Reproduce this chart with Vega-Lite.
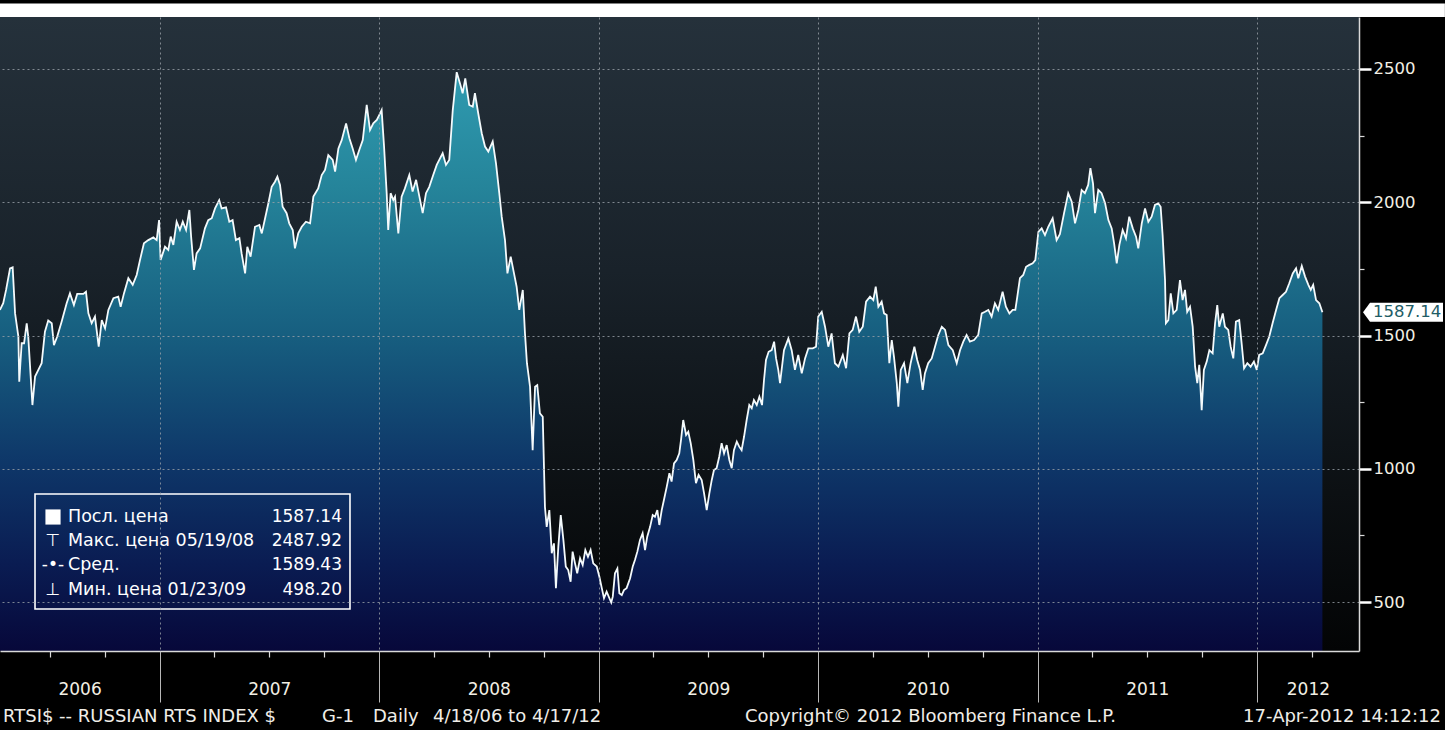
{
  "$schema": "https://vega.github.io/schema/vega-lite/v6.json",
  "width": 1359,
  "height": 634,
  "autosize": "none",
  "padding": {"left": 0, "top": 17, "right": 86, "bottom": 79},
  "background": "#000000",
  "config": {"view": {"stroke": null}, "font": "DejaVu Sans"},
  "data": {"values": [
    {"t":2006.273,"v":1596},{"t":2006.288,"v":1621},{"t":2006.301,"v":1671},{"t":2006.319,"v":1752},{"t":2006.331,"v":1756},{"t":2006.342,"v":1583},{"t":2006.357,"v":1496},{"t":2006.361,"v":1327},{"t":2006.372,"v":1471},{"t":2006.383,"v":1471},{"t":2006.395,"v":1546},{"t":2006.402,"v":1496},{"t":2006.421,"v":1239},{"t":2006.433,"v":1346},{"t":2006.448,"v":1371},{"t":2006.463,"v":1396},{"t":2006.478,"v":1514},{"t":2006.493,"v":1556},{"t":2006.509,"v":1546},{"t":2006.519,"v":1464},{"t":2006.534,"v":1496},{"t":2006.554,"v":1552},{"t":2006.577,"v":1621},{"t":2006.592,"v":1658},{"t":2006.610,"v":1614},{"t":2006.625,"v":1656},{"t":2006.653,"v":1656},{"t":2006.665,"v":1664},{"t":2006.676,"v":1583},{"t":2006.691,"v":1546},{"t":2006.706,"v":1571},{"t":2006.723,"v":1458},{"t":2006.737,"v":1558},{"t":2006.752,"v":1527},{"t":2006.767,"v":1596},{"t":2006.790,"v":1640},{"t":2006.812,"v":1646},{"t":2006.823,"v":1608},{"t":2006.838,"v":1658},{"t":2006.858,"v":1715},{"t":2006.878,"v":1690},{"t":2006.896,"v":1727},{"t":2006.911,"v":1783},{"t":2006.929,"v":1846},{"t":2006.949,"v":1858},{"t":2006.972,"v":1868},{"t":2006.987,"v":1858},{"t":2006.998,"v":1933},{"t":2007.005,"v":1783},{"t":2007.025,"v":1833},{"t":2007.040,"v":1821},{"t":2007.051,"v":1871},{"t":2007.063,"v":1840},{"t":2007.078,"v":1927},{"t":2007.093,"v":1896},{"t":2007.106,"v":1927},{"t":2007.121,"v":1896},{"t":2007.136,"v":1971},{"t":2007.144,"v":1871},{"t":2007.157,"v":1746},{"t":2007.169,"v":1808},{"t":2007.185,"v":1827},{"t":2007.207,"v":1902},{"t":2007.222,"v":1933},{"t":2007.238,"v":1940},{"t":2007.253,"v":1977},{"t":2007.272,"v":2008},{"t":2007.283,"v":1977},{"t":2007.303,"v":1981},{"t":2007.318,"v":1927},{"t":2007.333,"v":1933},{"t":2007.348,"v":1858},{"t":2007.364,"v":1865},{"t":2007.374,"v":1808},{"t":2007.390,"v":1733},{"t":2007.400,"v":1833},{"t":2007.415,"v":1796},{"t":2007.435,"v":1908},{"t":2007.455,"v":1915},{"t":2007.466,"v":1883},{"t":2007.481,"v":1940},{"t":2007.496,"v":1996},{"t":2007.511,"v":2058},
    {"t":2007.526,"v":2077},{"t":2007.537,"v":2096},{"t":2007.549,"v":2065},{"t":2007.561,"v":1983},{"t":2007.579,"v":1959},{"t":2007.591,"v":1921},{"t":2007.607,"v":1896},{"t":2007.617,"v":1827},{"t":2007.632,"v":1883},{"t":2007.648,"v":1908},{"t":2007.667,"v":1927},{"t":2007.686,"v":1921},{"t":2007.701,"v":2021},{"t":2007.723,"v":2052},{"t":2007.739,"v":2102},{"t":2007.754,"v":2121},{"t":2007.769,"v":2177},{"t":2007.789,"v":2159},{"t":2007.800,"v":2115},{"t":2007.815,"v":2202},{"t":2007.830,"v":2233},{"t":2007.850,"v":2296},{"t":2007.865,"v":2240},{"t":2007.880,"v":2202},{"t":2007.895,"v":2159},{"t":2007.910,"v":2196},{"t":2007.926,"v":2233},{"t":2007.944,"v":2365},{"t":2007.959,"v":2271},{"t":2007.974,"v":2296},{"t":2007.990,"v":2309},{"t":2008.001,"v":2327},{"t":2008.012,"v":2346},{"t":2008.023,"v":2209},{"t":2008.035,"v":2034},{"t":2008.042,"v":1896},{"t":2008.053,"v":2034},{"t":2008.065,"v":2008},{"t":2008.073,"v":2021},{"t":2008.088,"v":1883},{"t":2008.103,"v":2021},{"t":2008.118,"v":2052},{"t":2008.138,"v":2102},{"t":2008.153,"v":2040},{"t":2008.169,"v":2084},{"t":2008.184,"v":2021},{"t":2008.199,"v":1959},{"t":2008.214,"v":2034},{"t":2008.229,"v":2058},{"t":2008.247,"v":2102},{"t":2008.263,"v":2140},{"t":2008.278,"v":2165},{"t":2008.290,"v":2184},{"t":2008.305,"v":2140},{"t":2008.320,"v":2159},{"t":2008.336,"v":2346},{"t":2008.354,"v":2488},{"t":2008.369,"v":2446},{"t":2008.381,"v":2409},{"t":2008.393,"v":2465},{"t":2008.411,"v":2365},{"t":2008.427,"v":2359},{"t":2008.437,"v":2409},{"t":2008.452,"v":2334},{"t":2008.468,"v":2259},{"t":2008.483,"v":2209},{"t":2008.498,"v":2190},{"t":2008.518,"v":2228},{"t":2008.533,"v":2146},{"t":2008.548,"v":2034},{"t":2008.559,"v":1946},{"t":2008.574,"v":1858},{"t":2008.585,"v":1733},{"t":2008.600,"v":1796},{"t":2008.615,"v":1733},{"t":2008.627,"v":1683},{"t":2008.639,"v":1596},{"t":2008.655,"v":1671},{"t":2008.665,"v":1508},{"t":2008.674,"v":1396},{"t":2008.688,"v":1308},{"t":2008.700,"v":1070},{"t":2008.711,"v":1308},{"t":2008.721,"v":1314},{"t":2008.733,"v":1208},{"t":2008.746,"v":1195},
    {"t":2008.756,"v":857},{"t":2008.764,"v":782},{"t":2008.776,"v":845},{"t":2008.787,"v":683},{"t":2008.797,"v":720},{"t":2008.806,"v":552},{"t":2008.817,"v":708},{"t":2008.828,"v":826},{"t":2008.840,"v":733},{"t":2008.851,"v":633},{"t":2008.862,"v":620},{"t":2008.873,"v":576},{"t":2008.882,"v":689},{"t":2008.893,"v":645},{"t":2008.903,"v":608},{"t":2008.916,"v":664},{"t":2008.928,"v":639},{"t":2008.940,"v":695},{"t":2008.952,"v":670},{"t":2008.964,"v":695},{"t":2008.976,"v":645},{"t":2008.992,"v":633},{"t":2009.004,"v":595},{"t":2009.015,"v":552},{"t":2009.025,"v":514},{"t":2009.037,"v":539},{"t":2009.058,"v":498.2},{"t":2009.065,"v":520},{"t":2009.075,"v":608},{"t":2009.086,"v":626},{"t":2009.095,"v":533},{"t":2009.106,"v":526},{"t":2009.116,"v":545},{"t":2009.128,"v":552},{"t":2009.144,"v":589},{"t":2009.156,"v":633},{"t":2009.166,"v":658},{"t":2009.177,"v":689},{"t":2009.189,"v":733},{"t":2009.201,"v":758},{"t":2009.212,"v":695},{"t":2009.222,"v":745},{"t":2009.235,"v":782},{"t":2009.247,"v":826},{"t":2009.257,"v":820},{"t":2009.268,"v":845},{"t":2009.277,"v":789},{"t":2009.288,"v":845},{"t":2009.298,"v":883},{"t":2009.311,"v":933},{"t":2009.323,"v":983},{"t":2009.333,"v":952},{"t":2009.344,"v":1020},{"t":2009.356,"v":1033},{"t":2009.368,"v":1058},{"t":2009.376,"v":1108},{"t":2009.386,"v":1183},{"t":2009.399,"v":1127},{"t":2009.409,"v":1139},{"t":2009.420,"v":1096},{"t":2009.432,"v":1033},{"t":2009.444,"v":946},{"t":2009.456,"v":977},{"t":2009.470,"v":958},{"t":2009.481,"v":908},{"t":2009.493,"v":845},{"t":2009.505,"v":908},{"t":2009.516,"v":958},{"t":2009.526,"v":995},{"t":2009.538,"v":1002},{"t":2009.550,"v":1045},{"t":2009.561,"v":1096},{"t":2009.572,"v":1058},{"t":2009.584,"v":1089},{"t":2009.596,"v":1033},{"t":2009.607,"v":1002},{"t":2009.617,"v":1070},{"t":2009.630,"v":1102},{"t":2009.641,"v":1083},{"t":2009.652,"v":1070},{"t":2009.663,"v":1120},{"t":2009.675,"v":1183},{"t":2009.687,"v":1239},{"t":2009.698,"v":1227},{"t":2009.708,"v":1258},{"t":2009.721,"v":1239},{"t":2009.733,"v":1270},{"t":2009.745,"v":1239},{"t":2009.754,"v":1333},{"t":2009.763,"v":1408},{"t":2009.775,"v":1439},{"t":2009.789,"v":1445},{"t":2009.800,"v":1477},{"t":2009.809,"v":1414},{"t":2009.819,"v":1371},
    {"t":2009.827,"v":1321},{"t":2009.845,"v":1445},{"t":2009.865,"v":1489},{"t":2009.880,"v":1445},{"t":2009.895,"v":1371},{"t":2009.910,"v":1427},{"t":2009.926,"v":1358},{"t":2009.941,"v":1414},{"t":2009.956,"v":1452},{"t":2009.976,"v":1452},{"t":2009.991,"v":1458},{"t":2010.001,"v":1571},{"t":2010.017,"v":1589},{"t":2010.032,"v":1533},{"t":2010.047,"v":1458},{"t":2010.062,"v":1508},{"t":2010.077,"v":1396},{"t":2010.093,"v":1383},{"t":2010.113,"v":1427},{"t":2010.128,"v":1377},{"t":2010.143,"v":1508},{"t":2010.158,"v":1521},{"t":2010.173,"v":1571},{"t":2010.188,"v":1514},{"t":2010.204,"v":1533},{"t":2010.219,"v":1627},{"t":2010.237,"v":1646},{"t":2010.252,"v":1633},{"t":2010.263,"v":1683},{"t":2010.275,"v":1608},{"t":2010.290,"v":1627},{"t":2010.301,"v":1583},{"t":2010.313,"v":1577},{"t":2010.325,"v":1396},{"t":2010.336,"v":1483},{"t":2010.346,"v":1421},{"t":2010.359,"v":1321},{"t":2010.366,"v":1233},{"t":2010.377,"v":1371},{"t":2010.392,"v":1396},{"t":2010.407,"v":1321},{"t":2010.422,"v":1396},{"t":2010.439,"v":1458},{"t":2010.452,"v":1408},{"t":2010.465,"v":1371},{"t":2010.477,"v":1296},{"t":2010.487,"v":1358},{"t":2010.502,"v":1396},{"t":2010.518,"v":1414},{"t":2010.533,"v":1458},{"t":2010.548,"v":1502},{"t":2010.564,"v":1533},{"t":2010.579,"v":1521},{"t":2010.594,"v":1464},{"t":2010.614,"v":1445},{"t":2010.632,"v":1396},{"t":2010.647,"v":1445},{"t":2010.662,"v":1477},{"t":2010.677,"v":1502},{"t":2010.692,"v":1477},{"t":2010.711,"v":1483},{"t":2010.730,"v":1502},{"t":2010.746,"v":1583},{"t":2010.761,"v":1589},{"t":2010.776,"v":1596},{"t":2010.791,"v":1571},{"t":2010.806,"v":1621},{"t":2010.821,"v":1596},{"t":2010.841,"v":1664},{"t":2010.856,"v":1608},{"t":2010.872,"v":1583},{"t":2010.887,"v":1596},{"t":2010.899,"v":1596},{"t":2010.908,"v":1646},{"t":2010.920,"v":1715},{"t":2010.935,"v":1727},{"t":2010.948,"v":1758},{"t":2010.963,"v":1765},{"t":2010.978,"v":1771},{"t":2010.990,"v":1783},{"t":2011.004,"v":1889},{"t":2011.019,"v":1902},{"t":2011.034,"v":1877},{"t":2011.049,"v":1908},{"t":2011.069,"v":1940},{"t":2011.087,"v":1858},{"t":2011.102,"v":1880},
    {"t":2011.121,"v":1959},{"t":2011.140,"v":2034},{"t":2011.156,"v":2002},{"t":2011.171,"v":1921},{"t":2011.186,"v":1971},{"t":2011.201,"v":2046},{"t":2011.216,"v":2034},{"t":2011.231,"v":2065},{"t":2011.241,"v":2128},{"t":2011.253,"v":2070},{"t":2011.262,"v":1959},{"t":2011.277,"v":2046},{"t":2011.292,"v":2034},{"t":2011.308,"v":1996},{"t":2011.323,"v":1933},{"t":2011.338,"v":1902},{"t":2011.349,"v":1846},{"t":2011.361,"v":1771},{"t":2011.373,"v":1840},{"t":2011.388,"v":1896},{"t":2011.403,"v":1865},{"t":2011.418,"v":1946},{"t":2011.434,"v":1902},{"t":2011.449,"v":1871},{"t":2011.459,"v":1827},{"t":2011.475,"v":1921},{"t":2011.490,"v":1977},{"t":2011.505,"v":1927},{"t":2011.520,"v":1946},{"t":2011.535,"v":1990},{"t":2011.550,"v":1996},{"t":2011.561,"v":1983},{"t":2011.570,"v":1877},{"t":2011.581,"v":1708},{"t":2011.585,"v":1546},{"t":2011.596,"v":1558},{"t":2011.607,"v":1658},{"t":2011.619,"v":1583},{"t":2011.634,"v":1596},{"t":2011.649,"v":1708},{"t":2011.661,"v":1633},{"t":2011.672,"v":1671},{"t":2011.682,"v":1589},{"t":2011.695,"v":1608},{"t":2011.707,"v":1533},{"t":2011.718,"v":1383},{"t":2011.728,"v":1321},{"t":2011.737,"v":1390},{"t":2011.748,"v":1220},{"t":2011.758,"v":1371},{"t":2011.771,"v":1402},{"t":2011.783,"v":1445},{"t":2011.798,"v":1433},{"t":2011.809,"v":1546},{"t":2011.819,"v":1614},{"t":2011.828,"v":1533},{"t":2011.844,"v":1583},{"t":2011.854,"v":1533},{"t":2011.869,"v":1521},{"t":2011.880,"v":1458},{"t":2011.892,"v":1414},{"t":2011.904,"v":1552},{"t":2011.919,"v":1558},{"t":2011.930,"v":1471},{"t":2011.941,"v":1377},{"t":2011.956,"v":1396},{"t":2011.971,"v":1383},{"t":2011.986,"v":1402},{"t":2011.999,"v":1371},{"t":2012.010,"v":1427},{"t":2012.026,"v":1433},{"t":2012.041,"v":1464},{"t":2012.056,"v":1496},{"t":2012.071,"v":1546},{"t":2012.087,"v":1596},{"t":2012.102,"v":1640},{"t":2012.117,"v":1652},{"t":2012.132,"v":1664},{"t":2012.147,"v":1696},{"t":2012.163,"v":1733},{"t":2012.178,"v":1752},{"t":2012.188,"v":1715},{"t":2012.204,"v":1761},{"t":2012.219,"v":1721},{"t":2012.234,"v":1690},{"t":2012.245,"v":1671},{"t":2012.256,"v":1690},{"t":2012.269,"v":1633},{"t":2012.284,"v":1621},{"t":2012.298,"v":1587.14}
  ]},
  "layer": [
    {
      "data": {"values": [{}]},
      "mark": {"type": "rect", "color": {"gradient": "linear", "x1": 0, "y1": 0, "x2": 0, "y2": 1, "stops": [
        {"offset": 0, "color": "#25313b"}, {"offset": 0.4, "color": "#19222a"}, {"offset": 0.75, "color": "#0c1013"}, {"offset": 1, "color": "#030405"}]}},
      "encoding": {
        "x": {"datum": 2006.2733, "type": "quantitative", "axis": {"orient": "bottom", "values": [2006.636, 2007.5, 2008.5, 2009.5, 2010.5, 2011.5, 2012.232], "ticks": false, "domain": false, "grid": false, "labelExpr": "floor(datum.value)", "labelPadding": 30, "labelFontSize": 17, "labelColor": "#f2efe4", "labelFont": "DejaVu Sans", "labelFlush": false, "labelOverlap": false, "title": null}},
        "x2": {"datum": 2012.4647},
        "y": {"datum": 2695.1, "type": "quantitative", "axis": {"orient": "right", "values": [500, 1000, 1500, 2000, 2500], "tickSize": 12, "tickWidth": 2.5, "tickColor": "#ffffff", "labels": false, "domain": false, "grid": false, "title": null, "zindex": 1}},
        "y2": {"datum": 316.2}
      }
    },
    {
      "mark": {"type": "area", "color": {"gradient": "linear", "x1": 0, "y1": 0, "x2": 0, "y2": 1, "stops": [
        {"offset": 0, "color": "#2f9bb0"}, {"offset": 0.2, "color": "#25849a"}, {"offset": 0.45, "color": "#175f80"}, {"offset": 0.68, "color": "#0e3668"}, {"offset": 0.85, "color": "#0a1c52"}, {"offset": 1, "color": "#07083a"}]}},
      "encoding": {
        "x": {"field": "t", "type": "quantitative", "scale": {"domain": [2006.2733, 2012.4647], "nice": false, "zero": false},
          "axis": {"orient": "bottom", "values": [2006.5, 2006.75, 2007.25, 2007.5, 2007.75, 2008.25, 2008.5, 2008.75, 2009.25, 2009.5, 2009.75, 2010.25, 2010.5, 2010.75, 2011.25, 2011.5, 2011.75, 2012.25], "tickSize": 6, "tickColor": "#d9d9d9", "tickWidth": 1.2, "labels": false, "grid": false, "domain": true, "domainColor": "#d9d9d9", "domainWidth": 1.5, "title": null, "zindex": 1}},
        "y": {"field": "v", "type": "quantitative", "scale": {"domain": [316.2, 2695.1], "nice": false, "zero": false},
          "axis": {"orient": "right", "values": [500, 1000, 1500, 2000, 2500], "format": "d", "ticks": false, "labelPadding": 14, "labelFontSize": 16.5, "labelColor": "#f2efe4", "labelFont": "DejaVu Sans", "labelFlush": false, "labelOverlap": false, "domain": true, "domainColor": "#d9d9d9", "domainWidth": 1.5, "grid": true, "gridColor": "#9aa1a8", "gridDash": [2, 3], "gridOpacity": 0.8, "title": null, "zindex": 1}},
        "y2": {"datum": 316.2}
      }
    },
    {
      "mark": {"type": "line", "color": "#f4fafc", "strokeWidth": 1.8},
      "encoding": {
        "x": {"field": "t", "type": "quantitative",
          "axis": {"orient": "bottom", "values": [2007, 2008, 2009, 2010, 2011, 2012], "tickSize": 51, "tickColor": "#b8b8b8", "tickWidth": 1, "labels": false, "domain": false, "grid": true, "gridColor": "#9aa1a8", "gridDash": [2, 3], "gridOpacity": 0.8, "title": null, "zindex": 1}},
        "y": {"field": "v", "type": "quantitative",
          "axis": {"orient": "right", "values": [750, 1250, 1750, 2250], "tickSize": 5, "tickColor": "#d9d9d9", "tickWidth": 1.2, "labels": false, "domain": false, "grid": false, "title": null}}
      }
    },
    {
      "data": {"values": [{}]},
      "mark": {"type": "rect", "color": "#ffffff"},
      "encoding": {
        "x": {"datum": 2006.2733, "type": "quantitative", "axis": null},
        "x2": {"datum": 2012.856},
        "y": {"datum": 2745.8, "type": "quantitative", "axis": null},
        "y2": {"datum": 2695.1}
      }
    },
    {
      "data": {"values": [{}]},
      "mark": {"type": "rect", "filled": false, "color": "#ffffff", "strokeWidth": 1.6},
      "encoding": {
        "x": {"datum": 2006.4328, "type": "quantitative", "axis": null},
        "x2": {"datum": 2007.8678},
        "y": {"datum": 905.3, "type": "quantitative", "axis": null},
        "y2": {"datum": 473.7}
      }
    },
    {
      "data": {"values": [{}]},
      "mark": {"type": "point", "shape": "square", "filled": true, "color": "#ffffff", "size": 230, "opacity": 1},
      "encoding": {
        "x": {"datum": 2006.5148, "type": "quantitative", "axis": null},
        "y": {"datum": 819.0, "type": "quantitative", "axis": null}
      }
    },
    {
      "data": {"values": [{}]},
      "mark": {"type": "text", "text": ["", "⊤", "-•-", "⊥"], "align": "center", "baseline": "middle", "lineHeight": 24.2, "fontSize": 17, "color": "#ffffff", "font": "DejaVu Sans"},
      "encoding": {
        "x": {"datum": 2006.5148, "type": "quantitative", "axis": null},
        "y": {"datum": 819.0, "type": "quantitative", "axis": null}
      }
    },
    {
      "data": {"values": [{}]},
      "mark": {"type": "text", "text": ["Посл. цена", "Макс. цена 05/19/08", "Сред.", "Мин. цена 01/23/09"], "align": "left", "baseline": "middle", "lineHeight": 24.2, "fontSize": 17.5, "color": "#ffffff", "font": "DejaVu Sans"},
      "encoding": {
        "x": {"datum": 2006.5831, "type": "quantitative", "axis": null},
        "y": {"datum": 819.0, "type": "quantitative", "axis": null}
      }
    },
    {
      "data": {"values": [{}]},
      "mark": {"type": "text", "text": ["1587.14", "2487.92", "1589.43", "498.20"], "align": "right", "baseline": "middle", "lineHeight": 24.2, "fontSize": 17, "color": "#ffffff", "font": "DejaVu Sans"},
      "encoding": {
        "x": {"datum": 2007.8314, "type": "quantitative", "axis": null},
        "y": {"datum": 819.0, "type": "quantitative", "axis": null}
      }
    },
    {
      "data": {"values": [{}]},
      "mark": {"type": "point", "shape": "M 0.1 0 L 0.275 -0.2375 L 2.1 -0.2375 L 2.1 0.2375 L 0.275 0.2375 Z", "filled": true, "color": "#ffffff", "size": 6400, "opacity": 1},
      "encoding": {
        "x": {"datum": 2012.4647, "type": "quantitative", "axis": null},
        "y": {"datum": 1587.14, "type": "quantitative", "axis": null}
      }
    },
    {
      "data": {"values": [{}]},
      "mark": {"type": "text", "text": "1587.14", "align": "left", "baseline": "middle", "dx": 14, "fontSize": 16.5, "color": "#1f5d66", "font": "DejaVu Sans"},
      "encoding": {
        "x": {"datum": 2012.4647, "type": "quantitative", "axis": null},
        "y": {"datum": 1587.14, "type": "quantitative", "axis": null}
      }
    },
    {
      "data": {"values": [{}]},
      "mark": {"type": "text", "text": "RTSI$ -- RUSSIAN RTS INDEX $", "align": "left", "baseline": "middle", "fontSize": 18, "color": "#f0eee8", "font": "DejaVu Sans"},
      "encoding": {
        "x": {"datum": 2006.287, "type": "quantitative", "axis": null},
        "y": {"datum": 68.5, "type": "quantitative", "axis": null}
      }
    },
    {
      "data": {"values": [{}]},
      "mark": {"type": "text", "text": "G-1", "align": "left", "baseline": "middle", "fontSize": 18, "color": "#f0eee8", "font": "DejaVu Sans"},
      "encoding": {
        "x": {"datum": 2007.7403, "type": "quantitative", "axis": null},
        "y": {"datum": 68.5, "type": "quantitative", "axis": null}
      }
    },
    {
      "data": {"values": [{}]},
      "mark": {"type": "text", "text": "Daily", "align": "left", "baseline": "middle", "fontSize": 18, "color": "#f0eee8", "font": "DejaVu Sans"},
      "encoding": {
        "x": {"datum": 2007.9726, "type": "quantitative", "axis": null},
        "y": {"datum": 68.5, "type": "quantitative", "axis": null}
      }
    },
    {
      "data": {"values": [{}]},
      "mark": {"type": "text", "text": "4/18/06 to 4/17/12", "align": "left", "baseline": "middle", "fontSize": 18, "color": "#f0eee8", "font": "DejaVu Sans"},
      "encoding": {
        "x": {"datum": 2008.2459, "type": "quantitative", "axis": null},
        "y": {"datum": 68.5, "type": "quantitative", "axis": null}
      }
    },
    {
      "data": {"values": [{}]},
      "mark": {"type": "text", "text": "Copyright© 2012 Bloomberg Finance L.P.", "align": "center", "baseline": "middle", "fontSize": 18, "color": "#f0eee8", "font": "DejaVu Sans"},
      "encoding": {
        "x": {"datum": 2010.5125, "type": "quantitative", "axis": null},
        "y": {"datum": 68.5, "type": "quantitative", "axis": null}
      }
    },
    {
      "data": {"values": [{}]},
      "mark": {"type": "text", "text": "17-Apr-2012 14:12:12", "align": "right", "baseline": "middle", "fontSize": 18, "color": "#f0eee8", "font": "DejaVu Sans"},
      "encoding": {
        "x": {"datum": 2012.8382, "type": "quantitative", "axis": null},
        "y": {"datum": 68.5, "type": "quantitative", "axis": null}
      }
    }
  ],
  "resolve": {"axis": {"x": "independent", "y": "independent"}}
}
